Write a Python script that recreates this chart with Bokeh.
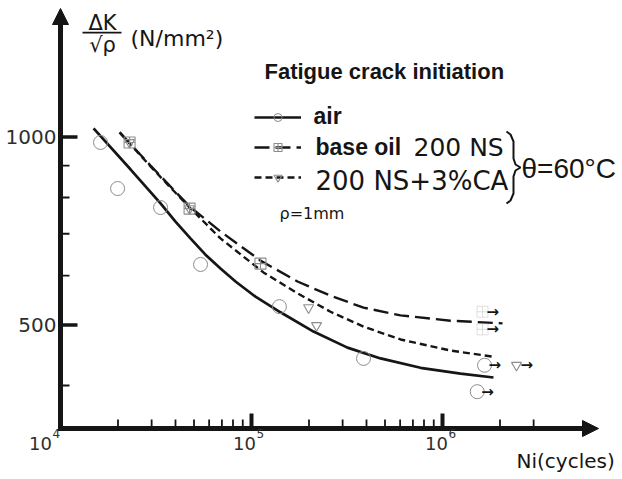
import math
from bokeh.plotting import figure
from bokeh.models import Label, Arrow, NormalHead, BoxAnnotation, Legend, LegendItem, Range1d
from bokeh.embed import file_html
from bokeh.resources import INLINE
from bokeh.core.properties import value

# ---------------- data ----------------
# fitted curves
air_curve_n = [1.49e4, 2.33e4, 3.34e4, 4.00e4, 4.79e4, 5.74e4, 6.88e4, 8.25e4, 1.049e5,
               1.418e5, 2.112e5, 3.18e5, 4.74e5, 7.67e5, 1.243e6, 1.849e6]
air_curve_s = [1032, 887, 783, 732, 688, 648, 616, 587, 555, 524, 488, 460, 442, 427, 418, 412]
oil_curve_n = [2.04e4, 2.96e4, 4.74e4, 6.88e4, 1.114e5, 1.741e5, 2.592e5, 3.86e5, 6.03e5,
               1.101e6, 2.062e6]
oil_curve_s = [1017, 900, 774, 706, 634, 587, 557, 533, 518, 508, 503]
ca_curve_n = [2.04e4, 2.96e4, 4.74e4, 6.88e4, 1.155e5, 1.741e5, 2.592e5, 3.86e5, 6.03e5,
              1.101e6, 1.827e6]
ca_curve_s = [1017, 897, 771, 688, 607, 562, 525, 497, 474, 455, 445]

# test points
air_n = [1.62e4, 1.99e4, 3.34e4, 5.41e4, 1.40e5, 3.86e5]
air_s = [980, 827, 771, 625, 535, 442]
air_runout_n = [1.66e6, 1.52e6]
air_runout_s = [431, 391]
oil_n = [2.30e4, 4.74e4, 1.114e5]
oil_s = [980, 768, 627]
oil_runout_n = [1.62e6, 1.62e6]
oil_runout_s = [525, 492]
ca_n = [2.30e4, 4.74e4, 1.99e5, 2.19e5]
ca_s = [980, 768, 533, 499]
ca_runout_n = [2.44e6]
ca_runout_s = [431]

# ticks
x_major = [1e4, 1e5, 1e6]
x_minor = [2e4, 3e4, 4e4, 5e4, 6e4, 7e4, 8e4, 9e4,
           2e5, 3e5, 4e5, 5e5, 6e5, 7e5, 8e5, 9e5, 2e6, 3e6]
y_major = [500, 1000]
y_minor = [400, 600, 700, 800, 900]

# ---------------- layout (screen geometry of the log-log axes) ----------------
W, H = 622, 479
ORG_PX, X_DEC_PX = 60, 191.0        # x: 1e4 sits at px 60, one decade = 191 px
REF_PY, Y_DEC_PX = 136.5, 624.5     # y: 1000 sits at py 136.5, one decade = 624.5 px
AXIS_PY, XEND_PX, YTOP_PY = 428, 598, 8


def at(px, py):
    return (10 ** (4 + (px - ORG_PX) / X_DEC_PX),
            10 ** (3 - (py - REF_PY) / Y_DEC_PX))


def kx(npx):
    return 10 ** (npx / X_DEC_PX)


def ky(npx):
    return 10 ** (npx / Y_DEC_PX)


XA, YA = at(0, H)
XB, YB = at(W, 0)
X_ORG, Y_AX = at(ORG_PX, AXIS_PY)

INK = "#151515"
GREY = "#8c8c8c"
LBL = "#2e2e2e"
SANS = "DejaVu Sans"
BOLD = "Liberation Sans"

p = figure(width=W, height=H, x_axis_type="log", y_axis_type="log",
           x_range=Range1d(XA, XB), y_range=Range1d(YA, YB),
           output_backend="svg", toolbar_location=None, title=None,
           min_border=0, min_border_left=0, min_border_right=0,
           min_border_top=0, min_border_bottom=0)
p.outline_line_color = None
p.xaxis.visible = False
p.yaxis.visible = False
p.xgrid.visible = False
p.ygrid.visible = False
p.background_fill_color = "white"
p.border_fill_color = "white"

# axis lines with arrow heads
x_end, _ = at(XEND_PX, AXIS_PY)
_, y_end = at(ORG_PX, YTOP_PY)
x_st, _ = at(ORG_PX - 2.5, AXIS_PY)
_, y_st = at(ORG_PX, AXIS_PY + 2.5)
p.add_layout(Arrow(x_start=x_st, y_start=Y_AX, x_end=x_end, y_end=Y_AX, line_width=5,
                   line_color=INK, end=NormalHead(size=16, fill_color=INK, line_color=INK)))
p.add_layout(Arrow(x_start=X_ORG, y_start=y_st, x_end=X_ORG, y_end=y_end, line_width=5,
                   line_color=INK, end=NormalHead(size=16, fill_color=INK, line_color=INK)))

# inward tick marks
p.segment(x0=[X_ORG] * len(y_major), y0=y_major, x1=[X_ORG * kx(17)] * len(y_major),
          y1=y_major, line_color=INK, line_width=3.5)
p.segment(x0=[X_ORG] * len(y_minor), y0=y_minor, x1=[X_ORG * kx(9)] * len(y_minor),
          y1=y_minor, line_color=INK, line_width=1.8)
p.segment(x0=x_major, y0=[Y_AX] * len(x_major), x1=x_major, y1=[Y_AX * ky(15)] * len(x_major),
          line_color=INK, line_width=4)
p.segment(x0=x_minor, y0=[Y_AX] * len(x_minor), x1=x_minor, y1=[Y_AX * ky(9)] * len(x_minor),
          line_color=INK, line_width=1.8)

# y tick labels
for t in y_major:
    p.add_layout(Label(x=X_ORG * kx(-4), y=t, text=str(t), text_font=SANS,
                       text_font_size="20px", text_align="right", text_baseline="middle",
                       text_color=LBL))

# x tick labels  10^n
x_label_shift = [-20, -7, -6]
_, y10 = at(0, 443)
_, yexp = at(0, 433)
for t, sh in zip(x_major, x_label_shift):
    e = int(round(math.log10(t)))
    x10 = t * kx(sh)
    p.add_layout(Label(x=x10, y=y10, text="10", text_font=SANS, text_font_size="18px",
                       text_align="center", text_baseline="middle", text_color=LBL))
    p.add_layout(Label(x=x10 * kx(12), y=yexp, text=str(e), text_font=SANS,
                       text_font_size="12px", text_align="left", text_baseline="middle",
                       text_color=LBL))

# curves
r_air = p.line(air_curve_n, air_curve_s, line_color=INK, line_width=2.7)
r_oil = p.line(oil_curve_n, oil_curve_s, line_color=INK, line_width=2.4, line_dash="15 6")
r_ca = p.line(ca_curve_n, ca_curve_s, line_color=INK, line_width=2.4, line_dash="7 4")

# points
r_air_pts = p.scatter(air_n, air_s, marker="circle", size=14, fill_color=None,
                      line_color=GREY, line_width=1.0)
p.scatter(air_runout_n, air_runout_s, marker="circle", size=14, fill_color=None,
          line_color=GREY, line_width=1.0)
r_oil_pts = p.scatter(oil_n, oil_s, marker="square_cross", size=11, fill_color=None,
                      line_color=GREY, line_width=1.1)
p.scatter(oil_runout_n, oil_runout_s, marker="square_cross", size=11, fill_color=None,
          line_color=GREY, line_width=1.0, line_alpha=0.25)
r_ca_pts = p.scatter(ca_n, ca_s, marker="inverted_triangle", size=10, fill_color=None,
                     line_color=GREY, line_width=1.1)
p.scatter(ca_runout_n, ca_runout_s, marker="inverted_triangle", size=10, fill_color=None,
          line_color=GREY, line_width=1.1)

# run-out arrows
for rn, rs in ((air_runout_n, air_runout_s), (oil_runout_n, oil_runout_s),
               (ca_runout_n, ca_runout_s)):
    p.text(x=rn, y=rs, text=["→"] * len(rn), x_offset=4, text_align="left",
           text_baseline="middle", text_font=value(SANS), text_font_style="bold",
           text_font_size="15px", text_color=INK)

# legend samples (texts are separate labels)
legend = Legend(items=[LegendItem(label=" ", renderers=[r_air, r_air_pts]),
                       LegendItem(label=" ", renderers=[r_oil, r_oil_pts]),
                       LegendItem(label=" ", renderers=[r_ca, r_ca_pts])],
                location=(254, 292), glyph_width=47, glyph_height=20,
                label_height=20, label_width=1, label_standoff=0, spacing=10,
                padding=0, margin=0, background_fill_alpha=0, border_line_alpha=0,
                label_text_font_size="4px")
p.add_layout(legend)


def label(px, py, text, size, font=SANS, style="normal", align="left", color=INK):
    x, y = at(px, py)
    p.add_layout(Label(x=x, y=y, text=text, text_font_size=size, text_font=font,
                       text_font_style=style, text_align=align,
                       text_baseline="middle", text_color=color))


label(264, 71, "Fatigue crack initiation", "22px", BOLD, "bold")
label(313, 115, "air", "23px", BOLD, "bold")
label(315, 146, "base oil", "23px", BOLD, "bold")
label(413, 147, "200 NS", "25px")
label(315, 180, "200 NS+3%CA", "26px")
label(521, 168, "θ=60°C", "28px", BOLD)
label(279, 213, "ρ=1mm", "16px")

# brace
brace_px = [(506, 131), (510, 134), (513, 141), (513, 158), (515, 164), (520, 167),
            (515, 170), (513, 176), (513, 193), (510, 200), (506, 203)]
bx, by = zip(*[at(a, b) for a, b in brace_px])
p.line(list(bx), list(by), line_color=INK, line_width=2)

# y axis title: fraction
label(102, 22, "ΔK", "21px", align="center")
bl, bt = at(82, 31.3)
br, bb = at(121, 33)
p.add_layout(BoxAnnotation(left=bl, right=br, top=bt, bottom=bb, fill_color=INK,
                           fill_alpha=1, line_alpha=0))
label(102, 44, "√ρ", "21px", align="center")
label(130, 38, "(N/mm²)", "22px")

# x axis title
label(516, 460, "Ni(cycles)", "20px")

open("out.html", "w").write(file_html(p, INLINE))
